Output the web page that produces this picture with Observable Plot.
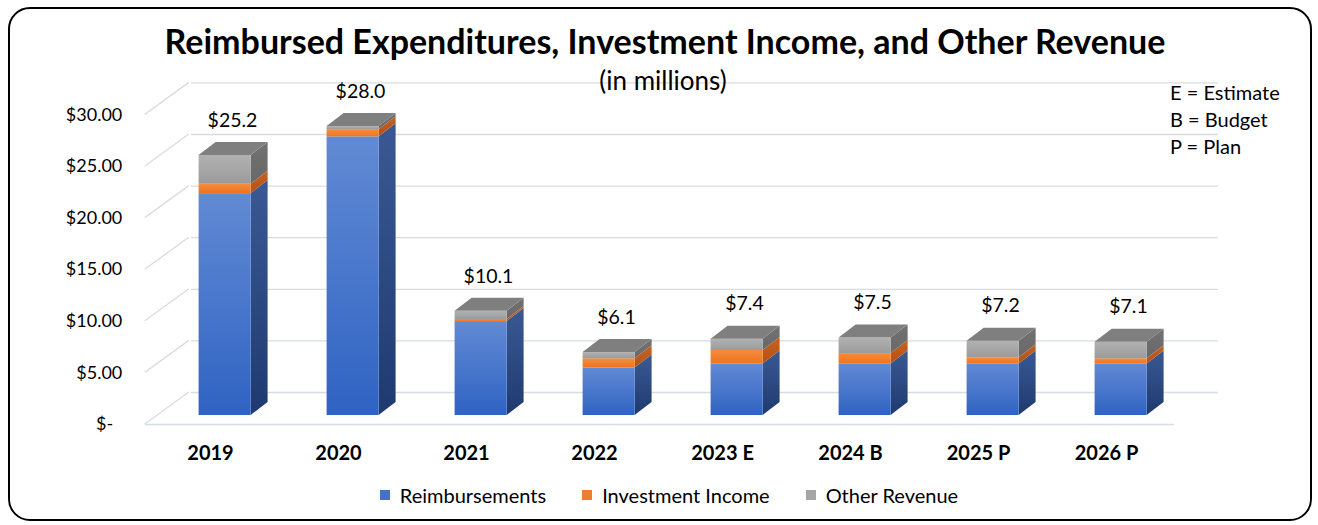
<!DOCTYPE html>
<html><head><meta charset="utf-8">
<script src="https://cdn.jsdelivr.net/npm/d3@7"></script>
<script src="https://cdn.jsdelivr.net/npm/@observablehq/plot@0.6"></script>
<style>
body{margin:0;background:#fff;}
#wrap{position:relative;width:1318px;height:525px;overflow:hidden;font-family:Lato,"Open Sans",sans-serif;color:#000;}
#frame{position:absolute;left:8px;top:7px;width:1300px;height:510px;border:2.5px solid #000;border-radius:22px;pointer-events:none;}
#title{position:absolute;left:6px;width:1318px;top:20px;line-height:42px;text-align:center;font-weight:700;font-size:34px;white-space:nowrap;}
#subtitle{position:absolute;left:4px;width:1318px;top:64px;line-height:32px;text-align:center;font-size:26px;}
#note{position:absolute;left:1170px;top:79px;font-size:20px;line-height:27px;}
#legend{position:absolute;left:10px;width:1318px;top:482px;display:flex;justify-content:center;gap:36px;font-size:20px;line-height:26px;}
#legend .item{display:flex;align-items:center;gap:10px;}
#legend .sw{width:10px;height:10px;display:inline-block;}
#chart{position:absolute;left:0;top:0;}
</style>
</head><body>
<div id="wrap">
  <div id="chart"></div>
  <div id="title">Reimbursed Expenditures, Investment Income, and Other Revenue</div>
  <div id="subtitle">(in millions)</div>
  <div id="note">E = Estimate<br>B = Budget<br>P = Plan</div>
  <div id="legend"></div>
  <div id="frame"></div>
</div>
<script>
const years = ["2019", "2020", "2021", "2022", "2023 E", "2024 B", "2025 P", "2026 P"];
const reimbursements   = [21.5, 27.0, 9.1, 4.6, 5.0, 5.0, 5.0, 5.0];
const investmentIncome = [0.9, 0.7, 0.2, 0.9, 1.3, 1.0, 0.6, 0.5];
const otherRevenue     = [2.8, 0.3, 0.8, 0.6, 1.1, 1.5, 1.6, 1.6];
const totals           = [25.2, 28.0, 10.1, 6.1, 7.4, 7.5, 7.2, 7.1];
const seriesNames  = ["Reimbursements", "Investment Income", "Other Revenue"];
const seriesColors = ["#4472c4", "#ed7d31", "#a5a5a5"];
const yTicks = [0, 5, 10, 15, 20, 25, 30];

const seriesValues = [reimbursements, investmentIncome, otherRevenue];
const data = [];
years.forEach((yr, i) => seriesNames.forEach((s, k) => data.push({year: yr, series: s, value: seriesValues[k][i]})));
const totalRows = years.map((yr, i) => ({year: yr, total: totals[i]}));

// 3D look
const GRID = "#d8dce4";
const OX = 12.6, OY = 9, BW = 52, DX = 17, DY = 13; // bar offset / width / depth (px)
const WALL_DX = 44, WALL_DY = 32;
const frontGrad = [["#628ad4", "#2f63c2"], ["#f68c3c", "#ee7420"], ["#b1b1b1", "#9b9b9b"]];
const sideGrad  = [["#3a5994", "#1e3a70"], ["#c8621f", "#b0521a"], ["#727272", "#686868"]];
const topColor = "#7f7f7f";

function bars3d(index, scales, values, dims) {
  const g = d3.create("svg:g");
  const defs = g.append("defs");
  [["front", frontGrad], ["side", sideGrad]].forEach(([name, grads]) => {
    grads.forEach((c, k) => {
      const lg = defs.append("linearGradient").attr("id", name + k).attr("x1", 0).attr("y1", 0).attr("x2", 0).attr("y2", 1);
      lg.append("stop").attr("offset", "0%").attr("stop-color", c[0]);
      lg.append("stop").attr("offset", "100%").attr("stop-color", c[1]);
    });
  });
  const bw = typeof scales.x.bandwidth === "function" ? scales.x.bandwidth()
    : (dims.width - dims.marginLeft - dims.marginRight) / years.length;
  const tops = [];
  for (const i of index) {
    const s = seriesNames.indexOf(data[i].series);
    const xc = values.x[i] + bw / 2 + OX;
    const x0 = xc - BW / 2, x1 = xc + BW / 2;
    const yb = values.y1[i] - OY, yt = values.y2[i] - OY;
    g.append("path")
      .attr("d", `M${x1},${yb}L${x1 + DX},${yb - DY}L${x1 + DX},${yt - DY}L${x1},${yt}Z`)
      .attr("fill", `url(#side${s})`);
    g.append("rect").attr("x", x0).attr("y", yt).attr("width", BW).attr("height", Math.max(0, yb - yt))
      .attr("fill", `url(#front${s})`);
    if (s === seriesNames.length - 1) tops.push([x0, x1, yt]);
  }
  for (const [x0, x1, yt] of tops) {
    g.append("path")
      .attr("d", `M${x0},${yt}L${x0 + DX},${yt - DY}L${x1 + DX},${yt - DY}L${x1},${yt}Z`)
      .attr("fill", topColor);
  }
  return g.node();
}

function sideWall(index, scales, values, dims) {
  const g = d3.create("svg:g").attr("stroke", GRID).attr("stroke-width", 1.3);
  for (const t of yTicks) {
    const y = scales.y(t);
    g.append("line").attr("x1", dims.marginLeft - 2).attr("y1", y).attr("x2", dims.marginLeft - 2 + WALL_DX).attr("y2", y - WALL_DY);
  }
  return g.node();
}

const chart = Plot.plot({
  width: 1318, height: 525,
  marginLeft: 146.8, marginRight: 144.0, marginTop: 114.4, marginBottom: 101,
  style: {fontFamily: "Lato, 'Open Sans', sans-serif", background: "transparent", overflow: "visible", color: "#000"},
  x: {domain: years, padding: 0, label: null},
  y: {domain: [0, 30], label: null},
  color: {domain: seriesNames, range: seriesColors},
  marks: [
    Plot.ruleY(yTicks, {dx: WALL_DX, dy: -WALL_DY, stroke: GRID, strokeWidth: 1.3}),
    sideWall,
    Plot.ruleY([0], {stroke: GRID, strokeWidth: 1.3, insetLeft: -2}),
    Plot.axisY({ticks: yTicks, tickSize: 0, tickPadding: 25, fontSize: 18, label: null,
      tickFormat: d => d === 0 ? "$-\u00a0\u00a0" : "$" + d.toFixed(2)}),
    Plot.axisX({tickSize: 0, tickPadding: 21, fontSize: 20, fontWeight: "bold", label: null, dx: -2}),
    Plot.barY(data, Plot.stackY({x: "year", y: "value", fill: "series", render: bars3d})),
    Plot.text(totalRows, {x: "year", y: "total", text: d => "$" + d.total.toFixed(1), dx: 20, dy: -44, fontSize: 19.5, fill: "#000"})
  ]
});
document.getElementById("chart").appendChild(chart);

const legend = document.getElementById("legend");
seriesNames.forEach((s, k) => {
  const it = document.createElement("div"); it.className = "item";
  const sw = document.createElement("span"); sw.className = "sw"; sw.style.background = seriesColors[k];
  const tx = document.createElement("span"); tx.textContent = s;
  it.appendChild(sw); it.appendChild(tx); legend.appendChild(it);
});
</script>
</body></html>
